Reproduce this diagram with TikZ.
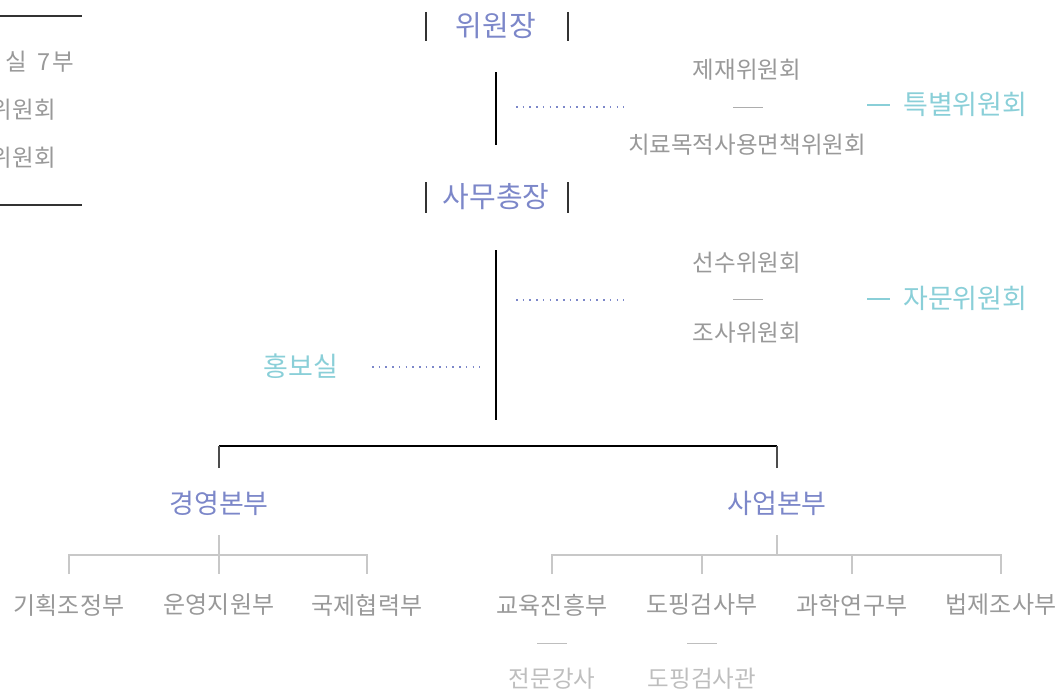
\documentclass[tikz,border=0pt]{standalone}
\usepackage{fontspec}
\setmainfont{Noto Sans CJK KR}
\definecolor{navy}{HTML}{7C87C9}
\definecolor{tealc}{HTML}{8ACFD8}
\definecolor{txtgray}{HTML}{999999}
\definecolor{ltgray}{HTML}{BEBEBE}
\definecolor{linegray}{HTML}{C8C8C8}
\definecolor{dark}{HTML}{333333}
\begin{document}
\begin{tikzpicture}[x=1pt,y=-1pt,
 head/.style={inner sep=0, text=navy, font=\fontsize{29}{29}\selectfont},
 sub/.style={inner sep=0, text=navy, font=\fontsize{27}{27}\selectfont},
 grp/.style={inner sep=0, text=tealc, font=\fontsize{27}{27}\selectfont},
 item/.style={inner sep=0, text=txtgray, font=\fontsize{23.5}{23.5}\selectfont},
 dept/.style={inner sep=0, text=txtgray, font=\fontsize{24}{24}\selectfont},
 staff/.style={inner sep=0, text=ltgray, font=\fontsize{23.5}{23.5}\selectfont},
 bar/.style={line width=2.2pt, draw=dark},
 rule/.style={line width=2pt, draw=dark},
 spine/.style={line width=1.4pt, draw=black},
 dots/.style={line width=1.8pt, draw=navy, dash pattern=on 1.6pt off 5.1pt},
 thin/.style={line width=1pt, draw=txtgray!80},
 thinlt/.style={line width=1pt, draw=ltgray},
 tdash/.style={line width=2pt, draw=tealc},
 tree/.style={line width=1.6pt, draw=linegray},
 bracket/.style={line width=1.4pt, draw=black},
 bracketv/.style={line width=2pt, draw=black!70}
]
\useasboundingbox (0,0) rectangle (1062,693);

% left cut-off block
\coordinate (lt1) at (0,16); \coordinate (lt2) at (82,16);
\coordinate (lb1) at (0,205); \coordinate (lb2) at (82,205);
\draw[rule] (lt1) -- (lt2);
\draw[rule] (lb1) -- (lb2);
\node[item, anchor=east] (left1) at (74,62) {실\hspace{0.42em}7\hspace{0.08em}부};
\node[item, anchor=east] (left2) at (56,110) {위원회};
\node[item, anchor=east] (left3) at (56,158) {위원회};

% chair
\node[head] (chair) at (496,26) {위원장};
\coordinate (cb1a) at (426,12); \coordinate (cb1b) at (426,41);
\coordinate (cb2a) at (568,12); \coordinate (cb2b) at (568,41);
\draw[bar] (cb1a) -- (cb1b);
\draw[bar] (cb2a) -- (cb2b);

% secretary general
\node[head] (sg) at (496,197) {사무총장};
\coordinate (sb1a) at (426,182); \coordinate (sb1b) at (426,213);
\coordinate (sb2a) at (568,182); \coordinate (sb2b) at (568,213);
\draw[bar] (sb1a) -- (sb1b);
\draw[bar] (sb2a) -- (sb2b);

% spine 1
\coordinate (sp1a) at (496,72); \coordinate (sp1b) at (496,145);
\draw[spine] (sp1a) -- (sp1b);
\coordinate (dt1a) at (516,107); \coordinate (dt1b) at (624,107);
\draw[dots] (dt1a) -- (dt1b);

\node[item] (sanc) at (747,70) {제재위원회};
\node[item] (tue) at (747,145) {치료목적사용면책위원회};
\coordinate (m1a) at (733,107); \coordinate (m1b) at (763,107);
\draw[thin] (m1a) -- (m1b);
\node[grp, anchor=west] (spec) at (903,104) {특별위원회};
\coordinate (td1a) at (867,105); \coordinate (td1b) at (890,105);
\draw[tdash] (td1a) -- (td1b);

% spine 2
\coordinate (sp2a) at (496,250); \coordinate (sp2b) at (496,420);
\draw[spine] (sp2a) -- (sp2b);
\coordinate (dt2a) at (516,300); \coordinate (dt2b) at (624,300);
\draw[dots] (dt2a) -- (dt2b);

\node[item] (ath) at (747,263) {선수위원회};
\node[item] (inv) at (747,333) {조사위원회};
\coordinate (m2a) at (733,299); \coordinate (m2b) at (763,299);
\draw[thin] (m2a) -- (m2b);
\node[grp, anchor=west] (adv) at (903,298) {자문위원회};
\coordinate (td2a) at (867,299); \coordinate (td2b) at (890,299);
\draw[tdash] (td2a) -- (td2b);

\node[grp] (pr) at (301,366) {홍보실};
\coordinate (dt3a) at (372,367); \coordinate (dt3b) at (480,367);
\draw[dots] (dt3a) -- (dt3b);

% bracket
\node[sub] (mgmt) at (219,503) {경영본부};
\node[sub] (biz) at (777,503) {사업본부};
\coordinate (bkl) at (219,468); \coordinate (bkr) at (777,468);
\coordinate (bktl) at (219,446); \coordinate (bktr) at (777,446);
\draw[bracket] (bktl) -- (bktr);
\draw[bracketv] (bkl) -- (bktl);
\draw[bracketv] (bkr) -- (bktr);

% management departments
\node[dept] (d1) at (69,605) {기획조정부};
\node[dept] (d2) at (219,605) {운영지원부};
\node[dept] (d3) at (367,605) {국제협력부};
\coordinate (d1t) at (69,574); \coordinate (d2t) at (219,574); \coordinate (d3t) at (367,574);
\coordinate (mt) at (219,535);
\draw[tree] (d1t) -- ++(0,-19) -| (d3t);
\draw[tree] (mt) -- (d2t);

% business departments
\node[dept] (b1) at (552,605) {교육진흥부};
\node[dept] (b2) at (702,605) {도핑검사부};
\node[dept] (b3) at (852,605) {과학연구부};
\node[dept] (b4) at (1001,605) {법제조사부};
\coordinate (b1t) at (552,574); \coordinate (b2t) at (702,574);
\coordinate (b3t) at (852,574); \coordinate (b4t) at (1001,574);
\coordinate (bt) at (777,535); \coordinate (btm) at (777,555);
\draw[tree] (b1t) -- ++(0,-19) -| (b4t);
\draw[tree] (b2t) -- ++(0,-19);
\draw[tree] (b3t) -- ++(0,-19);
\draw[tree] (bt) -- (btm);

% staff
\node[staff] (s1) at (552,679) {전문강사};
\node[staff] (s2) at (702,679) {도핑검사관};
\coordinate (s1a) at (537,643); \coordinate (s1b) at (567,643);
\coordinate (s2a) at (687,643); \coordinate (s2b) at (717,643);
\draw[thinlt] (s1a) -- (s1b);
\draw[thinlt] (s2a) -- (s2b);
\end{tikzpicture}
\end{document}
